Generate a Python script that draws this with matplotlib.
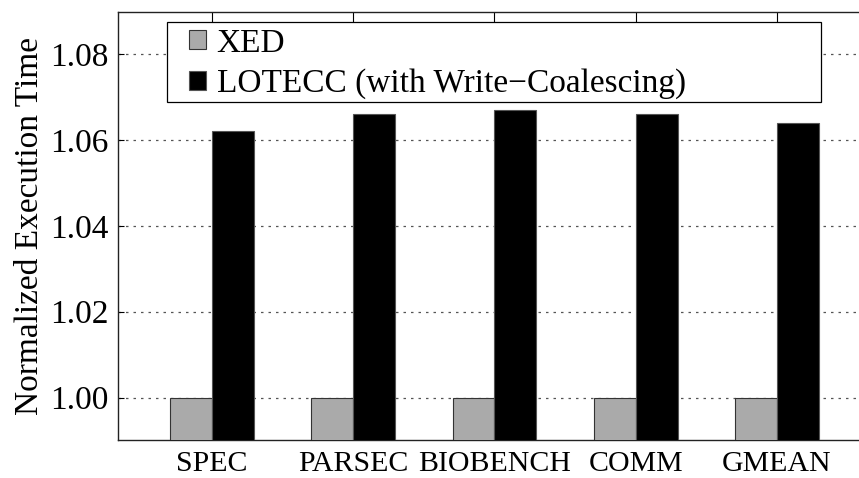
import matplotlib
matplotlib.use("Agg")
import matplotlib.pyplot as plt
from matplotlib.patches import Rectangle
import numpy as np

categories = ["SPEC", "PARSEC", "BIOBENCH", "COMM", "GMEAN"]
xed = [1.000, 1.000, 1.000, 1.000, 1.000]
lotecc = [1.062, 1.066, 1.067, 1.066, 1.064]
yticks = [1.00, 1.02, 1.04, 1.06, 1.08]
series_names = ["XED", "LOTECC (with Write\u2212Coalescing)"]

plt.rcParams['font.family'] = ['Liberation Serif', 'DejaVu Serif']
plt.rcParams['mathtext.fontset'] = 'stix'

W, H = 859, 478
fig = plt.figure(figsize=(W / 100, H / 100), dpi=100)
left, right, top, bottom = 118.5, 870.5, 12, 440
ax = fig.add_axes([left / W, 1 - bottom / H, (right - left) / W, (bottom - top) / H])

x = np.arange(len(categories))
bw = 0.297
ax.bar(x - bw / 2, xed, bw, color="#aaaaaa", edgecolor="#333333", linewidth=0.8, zorder=3, label=series_names[0])
ax.bar(x + bw / 2, lotecc, bw, color="black", edgecolor="#555555", linewidth=0.8, zorder=3, label=series_names[1])

ax.set_xlim(-0.663, 4.663)
ax.set_ylim(0.9901, 1.0898)
ax.set_yticks(yticks)
ax.set_yticklabels([f"{v:.2f}" for v in yticks])
ax.set_xticks(x)
ax.set_xticklabels(categories)
ax.tick_params(axis='x', which='both', bottom=False, top=True, direction='in', length=8,
               labelsize=21.5, pad=8, width=0.8)
ax.tick_params(axis='y', direction='in', length=4, labelsize=24, pad=7, width=0.8)
ax.set_ylabel("Normalized Execution Time", fontsize=24, labelpad=4)
ax.yaxis.grid(True, linestyle=(0, (2, 4)), color="#555555", linewidth=0.9, zorder=0)
ax.set_axisbelow(True)
for s in ax.spines.values():
    s.set_linewidth(1.0)
    s.set_color("#222222")

# legend frame
frame = Rectangle((167 / W, 1 - 102 / H), (821 - 167) / W, 80 / H, transform=fig.transFigure,
                  facecolor="white", edgecolor="black", linewidth=0.9, zorder=4)
fig.patches.append(frame)

leg = fig.legend(*ax.get_legend_handles_labels(), loc='upper left',
                 bbox_to_anchor=(189 / W, 1 - 28 / H), bbox_transform=fig.transFigure,
                 fontsize=24, frameon=False, handlelength=0.5, handleheight=0.5,
                 handletextpad=0.33, borderpad=0, labelspacing=0.3, borderaxespad=0)
leg.set_zorder(5)

fig.savefig("out.png", dpi=100)
